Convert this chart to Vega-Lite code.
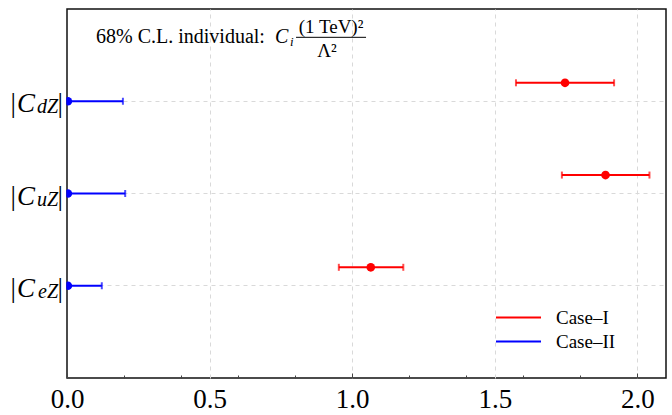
{
  "$schema": "https://vega.github.io/schema/vega-lite/v6.json",
  "width": 599,
  "height": 369,
  "autosize": {"type": "none"},
  "padding": {"left": 67, "top": 9, "right": 6, "bottom": 37},
  "background": "white",
  "config": {"view": {"stroke": "#111", "strokeWidth": 1.5}, "font": "Liberation Serif"},
  "datasets": {
    "intervals": [
      {"coef": "dZ", "case": "Case–I", "lo": 1.574, "c": 1.746, "hi": 1.918},
      {"coef": "uZ", "case": "Case–I", "lo": 1.735, "c": 1.888, "hi": 2.042},
      {"coef": "eZ", "case": "Case–I", "lo": 0.953, "c": 1.065, "hi": 1.179},
      {"coef": "dZ", "case": "Case–II", "lo": 0.0, "c": 0.003, "hi": 0.196},
      {"coef": "uZ", "case": "Case–II", "lo": 0.0, "c": 0.003, "hi": 0.204},
      {"coef": "eZ", "case": "Case–II", "lo": 0.0, "c": 0.003, "hi": 0.122}
    ],
    "labels": [{"coef": "dZ"}, {"coef": "uZ"}, {"coef": "eZ"}],
    "note": [{"note": "68% C.L. individual:"}]
  },
  "layer": [
    {
      "layer": [
        {
          "data": {"name": "intervals"},
          "mark": {"type": "rule", "strokeWidth": 2},
          "encoding": {
            "x": {"field": "lo", "type": "quantitative",
              "scale": {"domain": [0, 2.1], "nice": false, "zero": false},
              "axis": {"orient": "bottom", "values": [0, 0.5, 1, 1.5, 2], "format": ".1f", "ticks": false, "domain": false,
                "grid": true, "gridDash": [4, 4], "gridColor": "#d9d9d9",
                "gridOpacity": {"condition": {"test": "datum.value === 0", "value": 0}, "value": 1},
                "labelFont": "Liberation Serif",
                "labelFontSize": 27, "labelColor": "#000", "labelPadding": 8, "labelFlush": false, "title": null}},
            "x2": {"field": "hi"},
            "y": {"field": "coef", "type": "nominal",
              "scale": {"type": "band", "domain": ["dZ", "uZ", "eZ"], "paddingInner": 0, "paddingOuter": 0.5},
              "axis": {"labels": false, "ticks": false, "domain": false, "title": null, "grid": true,
                "gridDash": [4, 4], "gridColor": "#d9d9d9", "bandPosition": 0.5}},
            "yOffset": {"field": "case", "type": "nominal",
              "scale": {"type": "point", "domain": ["Case–I", "Case–II"], "range": [27.68, 46.13], "padding": 0}},
            "color": {"field": "case", "type": "nominal",
              "scale": {"domain": ["Case–I", "Case–II"], "range": ["#ff0000", "#0000ff"]},
              "legend": {"orient": "none", "legendX": 442, "legendY": 299, "title": null,
                "symbolType": "M-3,0H3", "symbolSize": 225, "symbolStrokeWidth": 2,
                "labelFont": "Liberation Serif", "labelFontSize": 19, "labelColor": "#000",
                "labelOffset": 28, "rowPadding": 4}}
          }
        },
        {
          "data": {"name": "intervals"},
          "mark": {"type": "tick", "orient": "vertical", "size": 7, "thickness": 2},
          "encoding": {
            "x": {"field": "lo", "type": "quantitative"},
            "y": {"field": "coef", "type": "nominal"},
            "yOffset": {"field": "case", "type": "nominal"},
            "color": {"field": "case", "type": "nominal", "legend": null}
          }
        },
        {
          "data": {"name": "intervals"},
          "mark": {"type": "tick", "orient": "vertical", "size": 7, "thickness": 2},
          "encoding": {
            "x": {"field": "hi", "type": "quantitative"},
            "y": {"field": "coef", "type": "nominal"},
            "yOffset": {"field": "case", "type": "nominal"},
            "color": {"field": "case", "type": "nominal", "legend": null}
          }
        },
        {
          "data": {"name": "intervals"},
          "mark": {"type": "point", "filled": true, "size": 75, "opacity": 1, "clip": true},
          "encoding": {
            "x": {"field": "c", "type": "quantitative"},
            "y": {"field": "coef", "type": "nominal"},
            "yOffset": {"field": "case", "type": "nominal"},
            "color": {"field": "case", "type": "nominal", "legend": null}
          }
        },
        {
          "data": {"name": "labels"},
          "mark": {"type": "text", "text": "|", "align": "right", "baseline": "alphabetic", "dx": -51, "dy": 11, "fontSize": 27, "font": "Liberation Serif", "color": "#000"},
          "encoding": {"x": {"datum": 0, "type": "quantitative"}, "y": {"field": "coef", "type": "nominal"}}
        },
        {
          "data": {"name": "labels"},
          "mark": {"type": "text", "text": "C", "align": "right", "baseline": "alphabetic", "dx": -32, "dy": 11, "fontSize": 27, "fontStyle": "italic", "font": "Liberation Serif", "color": "#000"},
          "encoding": {"x": {"datum": 0, "type": "quantitative"}, "y": {"field": "coef", "type": "nominal"}}
        },
        {
          "data": {"name": "labels"},
          "mark": {"type": "text", "align": "right", "baseline": "alphabetic", "dx": -9, "dy": 12, "fontSize": 20, "fontStyle": "italic", "font": "Liberation Serif", "color": "#000"},
          "encoding": {"x": {"datum": 0, "type": "quantitative"}, "y": {"field": "coef", "type": "nominal"}, "text": {"field": "coef"}}
        },
        {
          "data": {"name": "labels"},
          "mark": {"type": "text", "text": "|", "align": "right", "baseline": "alphabetic", "dx": -4, "dy": 11, "fontSize": 27, "font": "Liberation Serif", "color": "#000"},
          "encoding": {"x": {"datum": 0, "type": "quantitative"}, "y": {"field": "coef", "type": "nominal"}}
        }
      ]
    },
    {
      "data": {"name": "note"},
      "layer": [
        {
          "mark": {"type": "text", "align": "left", "baseline": "alphabetic", "fontSize": 20, "font": "Liberation Serif", "color": "#000"},
          "encoding": {
            "x": {"datum": 0.1017, "type": "quantitative",
              "scale": {"domain": [0, 2.1], "nice": false, "zero": false},
              "axis": {"orient": "bottom", "values": [0, 0.1, 0.2, 0.3, 0.4, 0.5, 0.6, 0.7, 0.8, 0.9, 1, 1.1, 1.2, 1.3, 1.4, 1.5, 1.6, 1.7, 1.8, 1.9, 2],
                "labels": false, "domain": false, "grid": false, "title": null, "tickColor": "#444", "tickWidth": 1,
                "tickSize": {"condition": {"test": "indexof([0, 0.5, 1, 1.5, 2], datum.value) >= 0", "value": -5}, "value": -3}}},
            "y": {"datum": 3.631, "type": "quantitative", "scale": {"domain": [0, 4], "nice": false, "zero": false}, "axis": null},
            "text": {"field": "note"}
          }
        },
        {
          "mark": {"type": "text", "text": "C", "align": "left", "baseline": "alphabetic", "fontSize": 20, "fontStyle": "italic", "font": "Liberation Serif", "color": "#000"},
          "encoding": {"x": {"datum": 0.7293, "type": "quantitative"}, "y": {"datum": 3.631, "type": "quantitative"}}
        },
        {
          "mark": {"type": "text", "text": "i", "align": "left", "baseline": "alphabetic", "fontSize": 13, "fontStyle": "italic", "font": "Liberation Serif", "color": "#000"},
          "encoding": {"x": {"datum": 0.7819, "type": "quantitative"}, "y": {"datum": 3.599, "type": "quantitative"}}
        },
        {
          "mark": {"type": "text", "text": "(1 TeV)²", "align": "center", "baseline": "alphabetic", "fontSize": 19, "font": "Liberation Serif", "color": "#000"},
          "encoding": {"x": {"datum": 0.9257, "type": "quantitative"}, "y": {"datum": 3.74, "type": "quantitative"}}
        },
        {
          "mark": {"type": "rule", "strokeWidth": 1, "color": "#000"},
          "encoding": {"x": {"datum": 0.803, "type": "quantitative"}, "x2": {"datum": 1.0484}, "y": {"datum": 3.693, "type": "quantitative"}}
        },
        {
          "mark": {"type": "text", "text": "Λ²", "align": "center", "baseline": "alphabetic", "fontSize": 19, "font": "Liberation Serif", "color": "#000"},
          "encoding": {"x": {"datum": 0.9116, "type": "quantitative"}, "y": {"datum": 3.48, "type": "quantitative"}}
        }
      ]
    }
  ],
  "resolve": {"scale": {"y": "independent"}, "axis": {"x": "independent"}}
}
